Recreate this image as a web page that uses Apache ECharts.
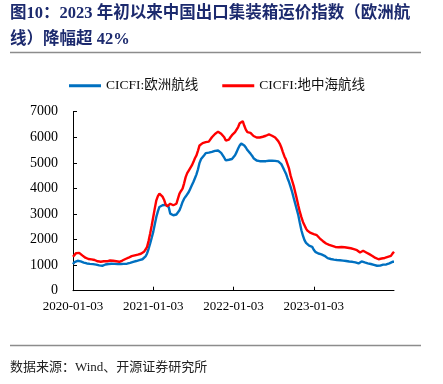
<!DOCTYPE html>
<html><head><meta charset="utf-8">
<script src="https://cdn.jsdelivr.net/npm/echarts@6/dist/echarts.min.js"></script>
<style>html,body{margin:0;padding:0;background:#fff}#c{width:443px;height:384px}</style>
</head><body><div id="c"></div>
<script>
// Weekly observations starting 2020-01-03
const startDate = '2020-01-03';
const tickLabels = ['2020-01-03', '2021-01-03', '2022-01-03', '2023-01-03'];
const seriesNames = ['CICFI:欧洲航线', 'CICFI:地中海航线'];
const europe = [
1040,1120,1160,1170,1160,1145,1120,1100,1080,1065,1060,1050,1045,1040,1030,1020,1000,990,985,975,
1000,1025,1040,1045,1050,1055,1055,1050,1045,1040,1040,1045,1050,1050,1055,1055,1070,1090,1110,1130,
1145,1160,1180,1195,1210,1230,1260,1340,1455,1640,1845,2070,2300,2600,2885,3100,3275,3320,3340,3350,
3360,3365,3275,3015,2970,2950,2960,2980,3050,3145,3300,3470,3600,3680,3730,3860,3990,4120,4250,4400,
4550,4750,5000,5150,5220,5300,5380,5420,5400,5420,5430,5420,5470,5520,5480,5420,5390,5355,5200,5095,
5110,5120,5140,5150,5160,5300,5420,5560,5680,5760,5810,5680,5600,5500,5450,5360,5280,5180,5120,5090,
5070,5065,5070,5060,5055,5065,5070,5080,5095,5080,5070,5075,5060,5055,5055,4950,4830,4700,4575,4400,
4250,4060,3860,3630,3405,3180,2950,2650,2365,2150,1975,1870,1800,1760,1740,1715,1600,1520,1480,1455,
1440,1420,1390,1365,1310,1275,1255,1240,1225,1215,1205,1200,1195,1190,1180,1175,1170,1160,1150,1140,
1135,1130,1120,1105,1085,1065,1110,1145,1125,1105,1085,1070,1060,1045,1030,1010,990,975,965,980,
1000,1020,1030,1025,1050,1070,1100,1130,1130
];
const mediterranean = [
1325,1400,1470,1520,1480,1420,1380,1330,1290,1262,1240,1250,1225,1210,1200,1170,1150,1135,1130,1140,
1150,1160,1150,1165,1180,1170,1170,1160,1150,1140,1130,1150,1180,1210,1240,1260,1290,1320,1350,1364,
1380,1400,1410,1430,1445,1460,1520,1610,1715,1950,2236,2550,2885,3220,3535,3700,3795,3760,3680,3560,
3380,3300,3360,3400,3380,3340,3360,3400,3600,3795,3900,3990,4200,4440,4600,4700,4770,4900,5030,5180,
5290,5480,5680,5720,5770,5750,5810,5800,5830,5900,6000,6070,6130,6180,6220,6180,6140,6130,6000,5870,
5830,5910,6000,6080,6130,6200,6260,6400,6550,6600,6630,6450,6300,6200,6230,6170,6150,6050,5980,5990,
5980,5990,6000,6020,6050,6060,6070,6110,6090,6060,6030,5990,5940,5850,5745,5600,5420,5250,5130,4950,
4770,4500,4300,4100,3850,3600,3330,3080,2880,2690,2560,2430,2340,2290,2260,2230,2210,2190,2170,2100,
2040,1990,1935,1890,1845,1810,1790,1770,1750,1740,1710,1690,1700,1715,1710,1715,1700,1690,1680,1675,
1660,1640,1625,1600,1585,1540,1495,1530,1560,1530,1495,1460,1430,1400,1360,1325,1280,1235,1230,1220,
1260,1300,1280,1285,1320,1340,1360,1450,1520
];

const n = Math.min(europe.length, mediterranean.length);
const categories = [];
const d0 = new Date(startDate + 'T00:00:00Z');
for (let i = 0; i < n; i++) {
  const d = new Date(d0.getTime() + i * 7 * 86400000);
  categories.push(d.toISOString().slice(0, 10));
}
const showTick = (idx) => idx % 52 === 0 && idx / 52 < tickLabels.length;

const chart = echarts.init(document.getElementById('c'), null, {renderer: 'canvas'});
const serif = "'Liberation Serif','Times New Roman','Noto Sans CJK SC',serif";
chart.setOption({
  animation: false,
  backgroundColor: '#fff',
  textStyle: {fontFamily: serif},
  graphic: [
    {type: 'text', left: 10, top: 5, style: {text: '图10：2023 年初以来中国出口集装箱运价指数（欧洲航', fontSize: 16.5, fontWeight: 'bold', fill: '#1c2a6e', fontFamily: serif}},
    {type: 'text', left: 10, top: 31, style: {text: '线）降幅超 42%', fontSize: 16.5, fontWeight: 'bold', fill: '#1c2a6e', fontFamily: serif}},
    {type: 'line', shape: {x1: 10, y1: 52.5, x2: 421, y2: 52.5}, style: {stroke: '#8c8c8c', lineWidth: 1.5}},
    {type: 'line', shape: {x1: 10, y1: 345.5, x2: 421, y2: 345.5}, style: {stroke: '#8c8c8c', lineWidth: 1.5}},
    {type: 'text', left: 10, top: 361, style: {text: '数据来源：Wind、开源证券研究所', fontSize: 13, fill: '#222', fontFamily: serif}}
  ],
  legend: {
    left: 64, top: 74, itemWidth: 32, itemHeight: 3, itemGap: 24, icon: 'rect',
    textStyle: {fontSize: 13.5, color: '#111', fontFamily: serif},
    data: seriesNames
  },
  grid: {left: 73, right: 49, top: 111.7, bottom: 93.3, containLabel: false},
  xAxis: {
    type: 'category', boundaryGap: false, data: categories,
    axisLine: {lineStyle: {color: '#000', width: 1}},
    axisTick: {inside: true, length: 4, interval: showTick, lineStyle: {color: '#000'}},
    axisLabel: {interval: showTick, formatter: (v, idx) => tickLabels[Math.round(idx / 52)], color: '#000', fontSize: 13, margin: 9, fontFamily: serif},
    splitLine: {show: false}
  },
  yAxis: {
    type: 'value', min: 0, max: 7000, interval: 1000,
    axisLine: {show: true, lineStyle: {color: '#000', width: 1}},
    axisTick: {show: true, inside: true, length: 4, lineStyle: {color: '#000'}},
    axisLabel: {color: '#000', fontSize: 14, margin: 15, fontFamily: serif, formatter: (v) => String(v)},
    splitLine: {show: false}
  },
  series: [
    {name: seriesNames[0], type: 'line', data: europe.slice(0, n), showSymbol: false, symbol: 'none', lineStyle: {color: '#0070C0', width: 2.4}, itemStyle: {color: '#0070C0'}},
    {name: seriesNames[1], type: 'line', data: mediterranean.slice(0, n), showSymbol: false, symbol: 'none', lineStyle: {color: '#FF0000', width: 2.4}, itemStyle: {color: '#FF0000'}}
  ]
});
</script></body></html>
